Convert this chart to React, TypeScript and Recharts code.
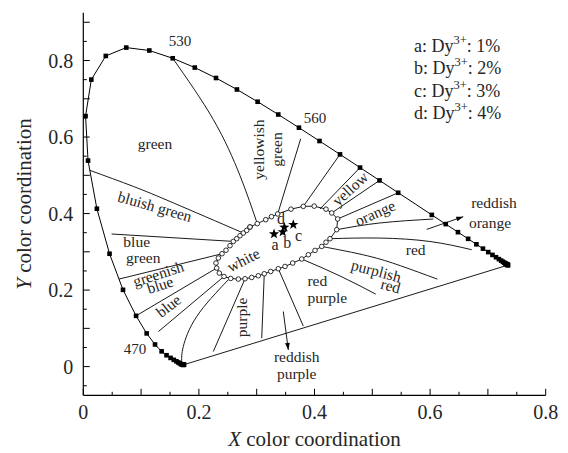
import React from 'react';
import { ComposedChart, Line, Scatter, XAxis, YAxis } from 'recharts';

// ---------- layout (chart coordinates) ----------
const W = 560;
const H = 445;
const PLOT_LEFT = 75.3;
const PLOT_TOP = 4.7;
const PLOT_RIGHT = 537.7;
const PLOT_BOTTOM = 387.3;
const X_DOMAIN: [number, number] = [0, 0.8];
const Y_DOMAIN: [number, number] = [-0.075, 0.925];
const PX_X = (PLOT_RIGHT - PLOT_LEFT) / (X_DOMAIN[1] - X_DOMAIN[0]);
const PX_Y = (PLOT_BOTTOM - PLOT_TOP) / (Y_DOMAIN[1] - Y_DOMAIN[0]);
const FONT = "'Liberation Serif', 'DejaVu Serif', serif";
const TEXT = '#262626';

// ---------- data ----------
const locusWavelength = [
  380, 385, 390, 395, 400, 405, 410, 415, 420, 425, 430, 435, 440, 445, 450, 455, 460, 465, 470, 475,
  480, 485, 490, 495, 500, 505, 510, 515, 520, 525, 530, 535, 540, 545, 550, 555, 560, 565, 570, 575,
  580, 585, 590, 595, 600, 605, 610, 615, 620, 625, 630, 635, 640, 645, 650, 655, 660, 665, 670, 675,
  680, 685, 690, 695, 700,
];
const locusX = [
  0.1741, 0.174, 0.1738, 0.1736, 0.1733, 0.173, 0.1726, 0.1721, 0.1714, 0.1703, 0.1689, 0.1669, 0.1644,
  0.1611, 0.1566, 0.151, 0.144, 0.1355, 0.1241, 0.1096, 0.0913, 0.0687, 0.0454, 0.0235, 0.0082, 0.0039,
  0.0139, 0.0389, 0.0743, 0.1142, 0.1547, 0.1929, 0.2296, 0.2658, 0.3016, 0.3373, 0.3731, 0.4087, 0.4441,
  0.4788, 0.5125, 0.5448, 0.5752, 0.6029, 0.627, 0.6482, 0.6658, 0.6801, 0.6915, 0.7006, 0.7079, 0.714,
  0.719, 0.723, 0.726, 0.7283, 0.73, 0.7311, 0.732, 0.7327, 0.7334, 0.734, 0.7344, 0.7346, 0.7347,
];
const locusY = [
  0.005, 0.005, 0.0049, 0.0049, 0.0048, 0.0048, 0.0048, 0.0048, 0.0051, 0.0058, 0.0069, 0.0086, 0.0109,
  0.0138, 0.0177, 0.0227, 0.0297, 0.0399, 0.0578, 0.0868, 0.1327, 0.2007, 0.295, 0.4127, 0.5384, 0.6548,
  0.7502, 0.812, 0.8338, 0.8262, 0.8059, 0.7816, 0.7543, 0.7243, 0.6923, 0.6589, 0.6245, 0.5896, 0.5547,
  0.5202, 0.4866, 0.4544, 0.4242, 0.3965, 0.3725, 0.3514, 0.334, 0.3197, 0.3083, 0.2993, 0.292, 0.2859,
  0.2809, 0.277, 0.274, 0.2717, 0.27, 0.2689, 0.268, 0.2673, 0.2666, 0.266, 0.2656, 0.2654, 0.2653,
];
const unmarkedWavelengths = [590];
const labelledWavelengths = [470, 530, 560];
const wavelengthLabelX = [0.0894, 0.1673, 0.4009];
const wavelengthLabelY = [0.0455, 0.8508, 0.6503];

// white region boundary (open circles)
const whiteX = [
  0.2884, 0.301, 0.3156, 0.3256, 0.3363, 0.3593, 0.3806, 0.3995, 0.4199, 0.4298, 0.4401, 0.4384, 0.4268,
  0.4199, 0.4125, 0.4009, 0.3893, 0.3779, 0.3623, 0.349, 0.3374, 0.3242, 0.3131, 0.3028, 0.2913, 0.2798,
  0.2682, 0.255, 0.2434, 0.2353, 0.2308, 0.2296, 0.2336, 0.24, 0.2469, 0.2538, 0.2595, 0.2654, 0.2711,
  0.2768, 0.2827, 0.2884,
];
const whiteY = [
  0.3649, 0.3736, 0.384, 0.3919, 0.399, 0.4115, 0.4188, 0.4194, 0.4115, 0.4016, 0.3859, 0.3579, 0.3343,
  0.3251, 0.3141, 0.3037, 0.2924, 0.2812, 0.2707, 0.2618, 0.2558, 0.2487, 0.2427, 0.2374, 0.233, 0.2296,
  0.2288, 0.2304, 0.2356, 0.2445, 0.2576, 0.2707, 0.2838, 0.295, 0.3042, 0.316, 0.3272, 0.3343, 0.3421,
  0.3492, 0.356, 0.3649,
];

// colour-name region boundaries: [x, y] pairs
const bGreenYellowishGreen = [[0.1547, 0.8059], [0.2249, 0.6458], [0.2711, 0.4992], [0.301, 0.3736]];
const bYellowishGreen = [[0.3761, 0.5953], [0.3363, 0.399]];
const bYellowGreen = [[0.4441, 0.5547], [0.3806, 0.4188]];
const bGreenishYellow = [[0.4788, 0.5202], [0.4095, 0.412]];
const bYellowOrange = [[0.5125, 0.4866], [0.4298, 0.4016]];
const bOrangeTop = [[0.5448, 0.4544], [0.4401, 0.3859]];
const bOrangeBottom = [[0.4384, 0.3579], [0.513, 0.3754], [0.6055, 0.3857]];
const bRedTop = [[0.4268, 0.3343], [0.513, 0.336], [0.5998, 0.327], [0.672, 0.3055]];
const bPurplishRedTop = [[0.4125, 0.3141], [0.4913, 0.2897], [0.549, 0.2635], [0.6126, 0.2286]];
const bPurplishRedBottom = [[0.3779, 0.2812], [0.444, 0.237], [0.5059, 0.1895]];
const bRedPurple = [[0.3374, 0.2558], [0.3806, 0.106]];
const bReddishPurple = [[0.3131, 0.2427], [0.3087, 0.0743]];
const bPurple = [[0.2798, 0.2296], [0.2249, 0.0393]];
const bPurpleBlue = [[0.2509, 0.227], [0.1962, 0.1309], [0.173, 0.0524], [0.1702, 0.0131]];
const bBlue = [[0.2434, 0.2356], [0.13, 0.0916]];
const bGreenishBlue = [[0.2308, 0.2576], [0.0913, 0.1327]];
const bGreenishBlueTop = [[0.0618, 0.2288], [0.24, 0.295]];
const bBlueGreenTop = [[0.049, 0.3466], [0.2595, 0.3272]];
const bBluishGreenTop = [[0.0113, 0.513], [0.0865, 0.471], [0.1557, 0.428], [0.2768, 0.3492]];
const arrowReddishOrange = [[0.5941, 0.3586], [0.6574, 0.3918]];
const arrowReddishPurple = [[0.346, 0.144], [0.3547, 0.0437]];

// samples
const sampleNames = ['a', 'b', 'c', 'd'];
const sampleX = [0.33, 0.345, 0.3633, 0.3478];
const sampleY = [0.3466, 0.352, 0.371, 0.364];
const sampleLabelX = [0.3316, 0.353, 0.3725, 0.3422];
const sampleLabelY = [0.319, 0.3234, 0.3424, 0.3865];
const dopantPercent = [1, 2, 3, 4];
const legendX = 0.5721;
const legendY = [0.8377, 0.7796, 0.7215, 0.6634];

// region names
const regionText = [
  'green', 'yellowish', 'green', 'bluish green', 'blue', 'green', 'greenish', 'blue', 'blue', 'white',
  'purple', 'red', 'purple', 'reddish', 'purple', 'purplish', 'red', 'red', 'orange', 'yellow',
  'reddish', 'orange',
];
const regionX = [
  0.124, 0.3028, 0.3346, 0.124, 0.0924, 0.1038, 0.1298, 0.1327, 0.1471, 0.2768, 0.274, 0.4048, 0.4221,
  0.3692, 0.3692, 0.5069, 0.5318, 0.5751, 0.5047, 0.4614, 0.7106, 0.7036,
];
const regionY = [
  0.583, 0.5673, 0.5673, 0.4188, 0.3264, 0.2848, 0.2427, 0.2139, 0.1589, 0.2793, 0.1288, 0.2238, 0.1812,
  0.026, -0.0192, 0.2505, 0.2113, 0.3055, 0.4016, 0.4652, 0.4277, 0.3754,
];
const regionAngle = [0, -90, -90, 16, 0, 0, -18, -18, -38, -27, -90, 0, 0, 0, 0, 15, 15, 0, -24, -42, 0, 0];

const xTicks = [0, 0.05, 0.1, 0.15, 0.2, 0.25, 0.3, 0.35, 0.4, 0.45, 0.5, 0.55, 0.6, 0.65, 0.7, 0.75, 0.8];
const yTicks = [-0.05, 0, 0.05, 0.1, 0.15, 0.2, 0.25, 0.3, 0.35, 0.4, 0.45, 0.5, 0.55, 0.6, 0.65, 0.7, 0.75, 0.8, 0.85, 0.9];

// ---------- derived tables ----------
const locus = locusWavelength.map((wl, i) => ({ x: locusX[i], y: locusY[i], wl }));
const purpleLine = [locus[0], locus[locus.length - 1]];
const white = whiteX.map((x, i) => ({ x, y: whiteY[i] }));
const toPts = (arr: number[][]) => arr.map(([x, y]) => ({ x, y }));
const boundaries = [
  { pts: bGreenYellowishGreen, type: 'natural' },
  { pts: bYellowishGreen, type: 'linear' },
  { pts: bYellowGreen, type: 'linear' },
  { pts: bGreenishYellow, type: 'linear' },
  { pts: bYellowOrange, type: 'linear' },
  { pts: bOrangeTop, type: 'linear' },
  { pts: bOrangeBottom, type: 'natural' },
  { pts: bRedTop, type: 'natural' },
  { pts: bPurplishRedTop, type: 'natural' },
  { pts: bPurplishRedBottom, type: 'natural' },
  { pts: bRedPurple, type: 'linear' },
  { pts: bReddishPurple, type: 'linear' },
  { pts: bPurple, type: 'linear' },
  { pts: bPurpleBlue, type: 'natural' },
  { pts: bBlue, type: 'linear' },
  { pts: bGreenishBlue, type: 'linear' },
  { pts: bGreenishBlueTop, type: 'linear' },
  { pts: bBlueGreenTop, type: 'linear' },
  { pts: bBluishGreenTop, type: 'natural' },
].map((b) => ({ type: b.type, pts: toPts(b.pts) }));
const arrows = [toPts(arrowReddishOrange), toPts(arrowReddishPurple)];
const samples = sampleNames.map((n, i) => ({ x: sampleX[i], y: sampleY[i], n }));
const sampleLabels = sampleNames.map((n, i) => ({ x: sampleLabelX[i], y: sampleLabelY[i], text: n, angle: 0, size: 16 }));
const regionLabels = regionText.map((t, i) => ({ x: regionX[i], y: regionY[i], text: t, angle: regionAngle[i], size: 15.5 }));
const wlLabels = labelledWavelengths.map((w, i) => ({ x: wavelengthLabelX[i], y: wavelengthLabelY[i], text: String(w), angle: 0, size: 15 }));
const legendRows = sampleNames.map((n, i) => ({ x: legendX, y: legendY[i], n, pct: dopantPercent[i] }));

// ---------- renderers ----------
const SquareDot = (props: any) => {
  const { cx, cy, payload, index } = props;
  if (cx == null || cy == null || unmarkedWavelengths.includes(payload.wl)) return <g key={`sq${index}`} />;
  return <rect key={`sq${index}`} x={cx - 2.3} y={cy - 2.3} width={4.6} height={4.6} fill="#000" />;
};

const makeArrowDot = (pts: { x: number; y: number }[]) => (props: any) => {
  const { cx, cy, index } = props;
  if (index !== pts.length - 1 || cx == null) return <g key={`ar${index}`} />;
  const p0 = pts[index - 1];
  const p1 = pts[index];
  const dx = (p1.x - p0.x) * PX_X;
  const dy = -(p1.y - p0.y) * PX_Y;
  const len = Math.hypot(dx, dy);
  const ux = dx / len;
  const uy = dy / len;
  const L = 7;
  const hw = 2.4;
  const bx = cx - ux * L;
  const by = cy - uy * L;
  const d = `M${cx},${cy} L${bx - uy * hw},${by + ux * hw} L${bx + uy * hw},${by - ux * hw} Z`;
  return <path key={`ar${index}`} d={d} fill="#000" />;
};

const TextShape = (props: any) => {
  const { cx, cy, payload } = props;
  if (cx == null) return <g />;
  return (
    <text
      x={cx}
      y={cy}
      textAnchor="middle"
      dominantBaseline="central"
      transform={payload.angle ? `rotate(${payload.angle} ${cx} ${cy})` : undefined}
      fontFamily={FONT}
      fontSize={payload.size}
      fill={TEXT}
    >
      {payload.text}
    </text>
  );
};

const LegendShape = (props: any) => {
  const { cx, cy, payload } = props;
  if (cx == null) return <g />;
  return (
    <text x={cx} y={cy} dominantBaseline="central" fontFamily={FONT} fontSize={18} fill={TEXT}>
      {`${payload.n}: Dy`}
      <tspan dy={-6} fontSize={12.5}>3+</tspan>
      <tspan dy={6}>{`: ${payload.pct}%`}</tspan>
    </text>
  );
};

const StarShape = (props: any) => {
  const { cx, cy } = props;
  if (cx == null) return <g />;
  const R = 5.4;
  const r = 2.2;
  let d = '';
  for (let k = 0; k < 10; k++) {
    const rad = k % 2 === 0 ? R : r;
    const a = -Math.PI / 2 + (k * Math.PI) / 5;
    d += `${k === 0 ? 'M' : 'L'}${cx + rad * Math.cos(a)},${cy + rad * Math.sin(a)}`;
  }
  return <path d={d + 'Z'} fill="#000" />;
};

const fmt = (v: number) => (Math.abs(v) < 1e-9 ? '0' : v.toFixed(1));

const XTick = (props: any) => {
  const { x, y, payload } = props;
  const k = Math.round(payload.value * 100);
  const major = k % 10 === 0;
  const labelled = k % 20 === 0;
  return (
    <g>
      <line x1={x} x2={x} y1={y} y2={y - (major ? 6.5 : 3.5)} stroke="#000" strokeWidth={1} />
      {labelled && (
        <text x={x} y={y + 24} textAnchor="middle" fontFamily={FONT} fontSize={20} fill={TEXT}>
          {fmt(payload.value)}
        </text>
      )}
    </g>
  );
};

const YTick = (props: any) => {
  const { x, y, payload } = props;
  const k = Math.round(payload.value * 100);
  const major = k % 10 === 0;
  const labelled = k % 20 === 0 && k >= 0 && k <= 80;
  return (
    <g>
      <line x1={x} x2={x + (major ? 6.5 : 3.5)} y1={y} y2={y} stroke="#000" strokeWidth={1} />
      {labelled && (
        <text x={x - 10} y={y + 7} textAnchor="end" fontFamily={FONT} fontSize={20} fill={TEXT}>
          {fmt(payload.value)}
        </text>
      )}
    </g>
  );
};

const XTitle = (props: any) => {
  const vb = props.viewBox || { x: PLOT_LEFT, y: PLOT_BOTTOM, width: PLOT_RIGHT - PLOT_LEFT };
  return (
    <text x={vb.x + vb.width / 2} y={vb.y + 51} textAnchor="middle" fontFamily={FONT} fontSize={21} fill={TEXT}>
      <tspan fontStyle="italic">X</tspan> color coordination
    </text>
  );
};

const YTitle = (props: any) => {
  const vb = props.viewBox || { x: 15.3, y: PLOT_TOP, width: 60, height: PLOT_BOTTOM - PLOT_TOP };
  const cx = vb.x + 8;
  const cy = vb.y + vb.height / 2;
  return (
    <text x={cx} y={cy} textAnchor="middle" transform={`rotate(-90 ${cx} ${cy})`} fontFamily={FONT} fontSize={21} fill={TEXT}>
      <tspan fontStyle="italic">Y</tspan> color coordination
    </text>
  );
};

export default function App() {
  return (
    <div style={{ width: W, height: H }}>
      <ComposedChart
        width={W}
        height={H}
        margin={{ top: PLOT_TOP, right: W - PLOT_RIGHT, left: PLOT_LEFT - 60, bottom: H - PLOT_BOTTOM - 40 }}
      >
        <XAxis
          dataKey="x"
          type="number"
          domain={X_DOMAIN}
          allowDataOverflow
          ticks={xTicks}
          interval={0}
          tickSize={0}
          tickMargin={0}
          tickLine={false}
          tick={<XTick />}
          height={40}
          axisLine={{ stroke: '#000', strokeWidth: 1.2 }}
          label={<XTitle />}
        />
        <XAxis xAxisId="top" orientation="top" type="number" domain={X_DOMAIN} height={0} tick={false} tickLine={false} axisLine={{ stroke: '#000', strokeWidth: 1.2 }} />
        <YAxis
          dataKey="y"
          type="number"
          domain={Y_DOMAIN}
          allowDataOverflow
          ticks={yTicks}
          interval={0}
          tickSize={0}
          tickMargin={0}
          tickLine={false}
          tick={<YTick />}
          width={60}
          axisLine={{ stroke: '#000', strokeWidth: 1.2 }}
          label={<YTitle />}
        />
        <YAxis yAxisId="right" orientation="right" type="number" domain={Y_DOMAIN} width={0} tick={false} tickLine={false} axisLine={{ stroke: '#000', strokeWidth: 1.2 }} />

        {boundaries.map((b, i) => (
          <Line
            key={`b${i}`}
            data={b.pts}
            dataKey="y"
            type={b.type as any}
            stroke="#000"
            strokeWidth={0.9}
            dot={false}
            activeDot={false}
            isAnimationActive={false}
          />
        ))}
        {arrows.map((a, i) => (
          <Line
            key={`a${i}`}
            data={a}
            dataKey="y"
            type="linear"
            stroke="#000"
            strokeWidth={0.9}
            dot={makeArrowDot(a)}
            activeDot={false}
            isAnimationActive={false}
          />
        ))}
        <Line data={purpleLine} dataKey="y" type="linear" stroke="#000" strokeWidth={0.9} dot={false} activeDot={false} isAnimationActive={false} />
        <Line data={locus} dataKey="y" type="linear" stroke="#000" strokeWidth={1} dot={<SquareDot />} activeDot={false} isAnimationActive={false} />
        <Line
          data={white}
          dataKey="y"
          type="linear"
          stroke="#000"
          strokeWidth={0.9}
          dot={{ r: 2.3, fill: '#fff', stroke: '#000', strokeWidth: 0.8 }}
          activeDot={false}
          isAnimationActive={false}
        />
        <Scatter data={samples} shape={<StarShape />} isAnimationActive={false} />
        <Scatter data={sampleLabels} shape={<TextShape />} isAnimationActive={false} />
        <Scatter data={regionLabels} shape={<TextShape />} isAnimationActive={false} />
        <Scatter data={wlLabels} shape={<TextShape />} isAnimationActive={false} />
        <Scatter data={legendRows} shape={<LegendShape />} isAnimationActive={false} />
      </ComposedChart>
    </div>
  );
}
